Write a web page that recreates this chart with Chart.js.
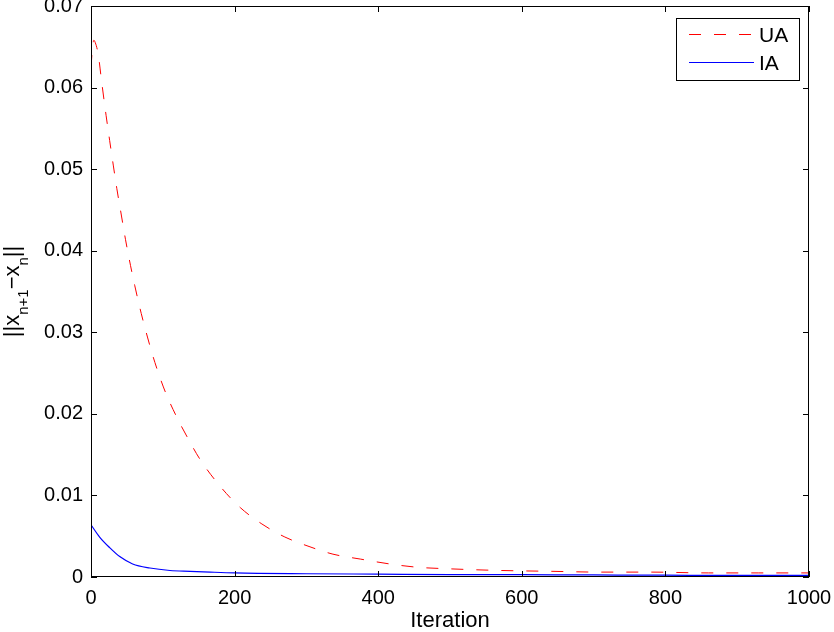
<!DOCTYPE html>
<html>
<head>
<meta charset="utf-8">
<script src="https://cdn.jsdelivr.net/npm/chart.js@4"></script>
<style>
  html, body { margin: 0; padding: 0; background: #fff; }
  canvas { display: block; }
</style>
</head>
<body>
<canvas id="myChart" width="834" height="632"></canvas>
<script>
// values
const uaIter = [0, 2, 4, 6, 10, 15, 21, 26, 31, 36, 42, 48, 55, 61, 70, 79, 89, 103, 120, 135, 152, 182, 208, 238, 270, 305, 337, 375, 416, 454, 500, 570, 640, 710, 780, 860, 930, 1000];
const uaValues = [0.0625, 0.0648, 0.0658, 0.0655, 0.0641, 0.0606, 0.0566, 0.0535, 0.0505, 0.0476, 0.0445, 0.0414, 0.0382, 0.0357, 0.0323, 0.0293, 0.0263, 0.0228, 0.0195, 0.0170, 0.0144, 0.0109, 0.0085, 0.0065, 0.0049, 0.0037, 0.0028, 0.0022, 0.0016, 0.0012, 0.0010, 0.0008, 0.0007, 0.0006, 0.0006, 0.0005, 0.0005, 0.0005];
const iaIter = [0, 12, 26, 40, 58, 82, 110, 138, 166, 200, 300, 400, 500, 600, 700, 800, 900, 1000];
const iaValues = [0.0064, 0.0049, 0.0036, 0.0025, 0.0016, 0.0011, 0.0008, 0.0007, 0.0006, 0.0005, 0.0004, 0.00035, 0.0003, 0.00028, 0.00025, 0.00022, 0.0002, 0.0002];
const seriesNames = ['UA', 'IA'];
const xTitle = 'Iteration';
// y title pieces: [text, isSubscript]
const yTitleParts = [['||x', false], ['n+1', true], ['\u2212x', false], ['n', true], ['||', false]];

const FONT = '"Liberation Sans", Arial, Helvetica, sans-serif';

function toPoints(xs, ys) {
    return xs.map((x, i) => ({ x: x, y: ys[i] }));
}

// box round the plot, ticks pointing inwards, y title and legend
const matlabLook = {
    id: 'matlabLook',
    afterDatasetsDraw(chart) {
        const { ctx, chartArea: a, scales } = chart;
        const xs = scales.x, ys = scales.y;
        ctx.save();
        ctx.strokeStyle = '#000';
        ctx.lineWidth = 1;
        ctx.strokeRect(Math.round(a.left) + 0.5, Math.round(a.top) + 0.5,
            Math.round(a.right - a.left) - 1, Math.round(a.bottom - a.top) - 1);

        const tl = 6;
        ctx.beginPath();
        xs.ticks.forEach((t) => {
            const px = Math.round(xs.getPixelForValue(t.value)) + 0.5;
            ctx.moveTo(px, a.bottom);
            ctx.lineTo(px, a.bottom - tl);
            ctx.moveTo(px, a.top);
            ctx.lineTo(px, a.top + tl);
        });
        ys.ticks.forEach((t) => {
            const py = Math.round(ys.getPixelForValue(t.value)) + 0.5;
            ctx.moveTo(a.left, py);
            ctx.lineTo(a.left + tl, py);
            ctx.moveTo(a.right, py);
            ctx.lineTo(a.right - tl, py);
        });
        ctx.stroke();

        // y axis title with subscripts
        const mainFont = '22px ' + FONT;
        const subFont = '15px ' + FONT;
        ctx.fillStyle = '#000';
        ctx.textBaseline = 'alphabetic';
        ctx.textAlign = 'left';
        let total = 0;
        yTitleParts.forEach(([txt, sub]) => {
            ctx.font = sub ? subFont : mainFont;
            total += ctx.measureText(txt).width;
        });
        ctx.translate(19, (a.top + a.bottom) / 2);
        ctx.rotate(-Math.PI / 2);
        let pos = -total / 2;
        yTitleParts.forEach(([txt, sub]) => {
            ctx.font = sub ? subFont : mainFont;
            ctx.fillText(txt, pos, sub ? 9 : 0);
            pos += ctx.measureText(txt).width;
        });
        ctx.restore();

        // legend
        ctx.save();
        const lx = 676, ly = 18, lw = 123, lh = 62;
        ctx.fillStyle = '#fff';
        ctx.fillRect(lx, ly, lw, lh);
        ctx.strokeStyle = '#000';
        ctx.lineWidth = 1;
        ctx.strokeRect(lx + 0.5, ly + 0.5, lw, lh);
        ctx.font = '21px ' + FONT;
        ctx.textBaseline = 'middle';
        chart.data.datasets.forEach((ds, i) => {
            const y = ly + 16.5 + i * 28;
            ctx.strokeStyle = ds.borderColor;
            ctx.lineWidth = ds.borderWidth;
            ctx.setLineDash(ds.borderDash || []);
            ctx.beginPath();
            ctx.moveTo(689, y);
            ctx.lineTo(754, y);
            ctx.stroke();
            ctx.setLineDash([]);
            ctx.fillStyle = '#000';
            ctx.fillText(ds.label, 759, y + 2);
        });
        ctx.restore();
    }
};

const ctx = document.getElementById('myChart');
new Chart(ctx, {
    type: 'line',
    data: {
        datasets: [
            {
                label: seriesNames[0],
                data: toPoints(uaIter, uaValues),
                borderColor: '#ff0000',
                borderWidth: 1,
                borderDash: [12, 13],
                pointRadius: 0,
                cubicInterpolationMode: 'monotone',
                fill: false,
            },
            {
                label: seriesNames[1],
                data: toPoints(iaIter, iaValues),
                borderColor: '#0000ff',
                borderWidth: 1.2,
                pointRadius: 0,
                cubicInterpolationMode: 'monotone',
                fill: false,
            },
        ],
    },
    options: {
        responsive: false,
        animation: false,
        devicePixelRatio: 1,
        layout: { padding: { top: 6, right: 25, left: 0, bottom: 0 } },
        plugins: {
            legend: { display: false },
            tooltip: { enabled: false },
        },
        scales: {
            x: {
                type: 'linear',
                min: 0,
                max: 1000,
                grid: { display: false, drawTicks: false },
                border: { display: false },
                ticks: {
                    stepSize: 200,
                    color: '#000',
                    padding: 9,
                    maxRotation: 0,
                    font: { family: FONT, size: 20 },
                    callback: (v) => String(v),
                },
                title: {
                    display: true,
                    text: xTitle,
                    color: '#000',
                    font: { family: FONT, size: 22, lineHeight: 1 },
                    padding: { top: 0, bottom: 0 },
                },
                afterFit(scale) {
                    scale.height = 55;
                    scale.paddingLeft = 0;
                    scale.paddingRight = 0;
                },
            },
            y: {
                min: 0,
                max: 0.07,
                grid: { display: false, drawTicks: false },
                border: { display: false },
                ticks: {
                    stepSize: 0.01,
                    color: '#000',
                    padding: 8,
                    font: { family: FONT, size: 20 },
                    callback: (v) => (v === 0 ? '0' : v.toFixed(2)),
                },
                afterFit(scale) {
                    scale.width = 91;
                    scale.paddingTop = 0;
                    scale.paddingBottom = 0;
                },
            },
        },
    },
    plugins: [matlabLook],
});
</script>
</body>
</html>
